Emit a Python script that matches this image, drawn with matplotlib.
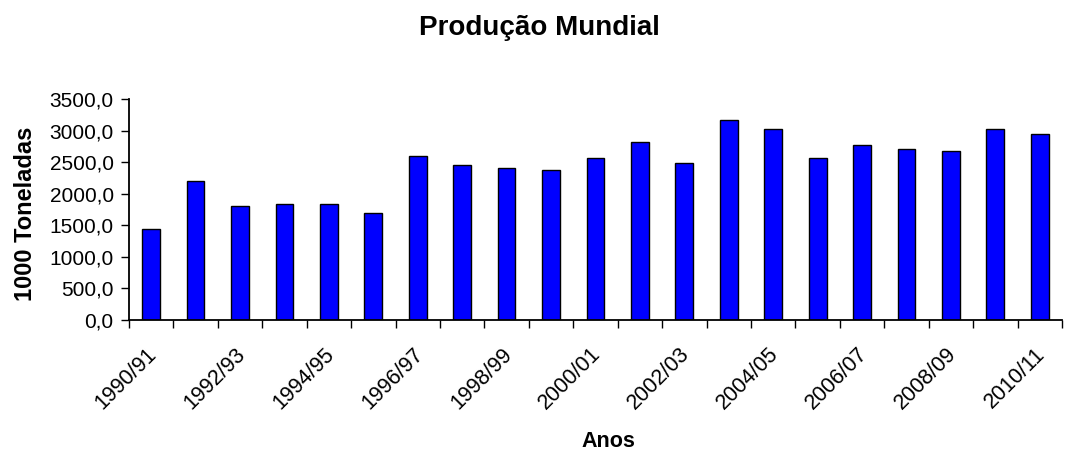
import matplotlib
matplotlib.use("Agg")
import matplotlib.pyplot as plt
import numpy as np
from matplotlib.ticker import FuncFormatter, FixedLocator
from matplotlib.transforms import ScaledTranslation

plt.rcParams['font.family'] = ['Liberation Sans', 'DejaVu Sans']

seasons = ["1990/91", "1991/92", "1992/93", "1993/94", "1994/95", "1995/96", "1996/97",
           "1997/98", "1998/99", "1999/00", "2000/01", "2001/02", "2002/03", "2003/04",
           "2004/05", "2005/06", "2006/07", "2007/08", "2008/09", "2009/10", "2010/11"]
production = [1440, 2205, 1805, 1837, 1837, 1695, 2597, 2455, 2402, 2376, 2571,
              2824, 2486, 3167, 3025, 2571, 2766, 2713, 2682, 3025, 2940]

fig = plt.figure(figsize=(10.71, 4.54), dpi=100)
ax = fig.add_axes([0.1204, 0.2952, 0.8712, 0.4867])

x = np.arange(len(seasons))
ax.bar(x, production, width=0.4, color="#0000FF", edgecolor="black", linewidth=1.0)

ax.set_xlim(-0.5, len(seasons) - 0.5)
ax.set_ylim(0, 3500)
ax.set_yticks(np.arange(0, 3501, 500))
ax.yaxis.set_major_formatter(FuncFormatter(lambda v, p: f"{v:.1f}".replace(".", ",")))

ax.set_xticks(x[::2])
ax.set_xticklabels(seasons[::2], rotation=45, ha="right", va="top", rotation_mode="anchor")
ax.xaxis.set_minor_locator(FixedLocator(np.arange(-0.5, len(seasons), 1.0)))
ax.tick_params(axis="x", which="major", length=0, pad=17, labelsize=15.5)
ax.tick_params(axis="x", which="minor", length=6, width=1, direction="out", color="black")
ax.tick_params(axis="y", length=6, width=1, direction="out", labelsize=15, pad=5)
off = ScaledTranslation(-5 / 100, 0, fig.dpi_scale_trans)
for lab in ax.get_xticklabels():
    lab.set_transform(lab.get_transform() + off)

for s in ["top", "right"]:
    ax.spines[s].set_visible(False)
for s in ["left", "bottom"]:
    ax.spines[s].set_linewidth(1.3)
    ax.spines[s].set_color("black")

ax.set_ylabel("1000 Toneladas", fontsize=17, fontweight="bold")
ax.yaxis.set_label_coords(-0.099, 0.48)
fig.text(0.568, 0.016, "Anos", ha="center", va="baseline", fontsize=15.5, fontweight="bold")
fig.text(0.504, 0.923, "Produção Mundial", ha="center", va="baseline", fontsize=20, fontweight="bold")

fig.savefig("out.png", dpi=100)
